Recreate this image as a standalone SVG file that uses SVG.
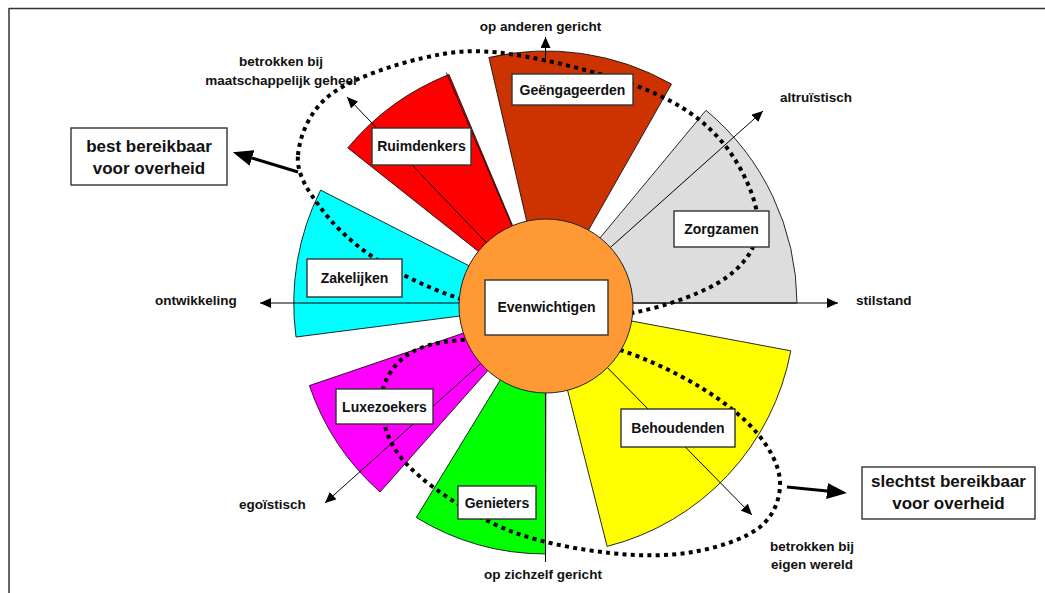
<svg xmlns="http://www.w3.org/2000/svg" width="1045" height="593" viewBox="0 0 1045 593">
<defs>
<style>
.sec{stroke:#111;stroke-width:0.9}
.ax{stroke:#000;stroke-width:1;fill:none}
.dot{fill:none;stroke:#000;stroke-width:4;stroke-dasharray:4 4.3}
.box{fill:#fff;stroke:#333;stroke-width:1.4}
.lbl{font-family:"Liberation Sans",Arial,sans-serif;font-weight:bold;font-size:14px;fill:#111;text-anchor:middle}
.ax-t{font-family:"Liberation Sans",Arial,sans-serif;font-weight:bold;font-size:13.5px;fill:#111}
.big{font-family:"Liberation Sans",Arial,sans-serif;font-weight:bold;font-size:17px;fill:#111;text-anchor:middle}
</style>
<marker id="ah" viewBox="0 0 11 10" refX="11" refY="5" markerWidth="11" markerHeight="10" markerUnits="userSpaceOnUse" orient="auto"><path d="M0,0 L11,5 L0,10 z" fill="#000"/></marker>
<marker id="bh" viewBox="0 0 20 16" refX="0" refY="8" markerWidth="20" markerHeight="16" markerUnits="userSpaceOnUse" orient="auto"><path d="M0,0 L20,8 L0,16 z" fill="#000"/></marker>
</defs>
<rect width="1045" height="593" fill="#fff"/>
<g id="frame" stroke="#333" stroke-width="1.5" fill="none">
<line x1="9" y1="8.5" x2="1045" y2="8.5"/>
<line x1="9" y1="8" x2="9" y2="593"/>
</g>
<g id="sectors">
<path class="sec" fill="#CC3300" d="M546,305 L488.9,57.5 A254,254 0 0 1 671.5,84.1 Z"/>
<path class="sec" fill="#FF0000" d="M546,305 L347.8,147.9 A253,253 0 0 1 449,74.5 Z"/>
<line class="sec" x1="546" y1="305" x2="446.3" y2="72.5"/>
<path class="sec" fill="#DDDDDD" d="M546,303 L706,110.3 A252,252 0 0 1 797,303 Z"/>
<path class="sec" fill="#00FFFF" d="M546,305 L296,337 A252,252 0 0 1 320.6,190.1 Z"/>
<path class="sec" fill="#FF00FF" d="M546,305 L380,492 A250,250 0 0 1 309.4,385.6 Z"/>
<path class="sec" fill="#00FF00" d="M546,305 L545.5,554 A249,249 0 0 1 416.3,517.5 Z"/>
<path class="sec" fill="#FFFF00" d="M546,305 L790.8,350.8 A249,249 0 0 1 607.1,546.4 Z"/>
</g>
<g id="connectors">
<line class="ax" x1="545.5" y1="62" x2="545.5" y2="37" marker-end="url(#ah)"/>
<line class="ax" x1="545.5" y1="390" x2="545.5" y2="562"/>
<line class="ax" x1="546" y1="303" x2="260" y2="303" marker-end="url(#ah)"/>
<line class="ax" x1="546" y1="303" x2="838" y2="303" marker-end="url(#ah)"/>
<line x1="630" y1="303" x2="797" y2="303" stroke="#444" stroke-width="2.2"/>
<line class="ax" x1="546" y1="305" x2="763" y2="111" marker-end="url(#ah)"/>
<line class="ax" x1="546" y1="305" x2="347" y2="97" marker-end="url(#ah)"/>
<line class="ax" x1="546" y1="305" x2="325" y2="503" marker-end="url(#ah)"/>
<line class="ax" x1="546" y1="305" x2="752" y2="515" marker-end="url(#ah)"/>
<line x1="298" y1="172" x2="252" y2="158" stroke="#000" stroke-width="3" marker-end="url(#bh)"/>
<line x1="787" y1="487" x2="827" y2="491" stroke="#000" stroke-width="3" marker-end="url(#bh)"/>
</g>
<g id="regions">
<path class="dot" d="M298,155 C299.7,136.3 309.2,111.2 330,95 C350.8,78.8 393,64.8 423,58 C453,51.2 472.7,48.7 510,54 C547.3,59.3 611.5,75.2 647,90 C682.5,104.8 704.5,121 723,143 C741.5,165 757.3,199.7 758,222 C758.7,244.3 747.2,262 727,277 C706.8,292 667.3,305.7 637,312 C606.7,318.3 575.3,317.5 545,315 C514.7,312.5 483.7,306.7 455,297 C426.3,287.3 395.5,272 373,257 C350.5,242 332.5,224 320,207 C307.5,190 296.3,173.7 298,155 Z"/>
<path class="dot" d="M620,350 C645.8,358.2 677.2,373.2 700,387 C722.8,400.8 743.7,417.2 757,433 C770.3,448.8 779.5,466.3 780,482 C780.5,497.7 774.5,515.3 760,527 C745.5,538.7 718,547.7 693,552 C668,556.3 640,556.3 610,553 C580,549.7 542.5,543 513,532 C483.5,521 453.5,502.3 433,487 C412.5,471.7 398,457.3 390,440 C382,422.7 378.3,398.8 385,383 C391.7,367.2 403.3,352.5 430,345 C456.7,337.5 513.3,337.2 545,338 C576.7,338.8 594.2,341.8 620,350 Z"/>
</g>
<g id="evenwichtigen">
<circle cx="546" cy="306" r="87" fill="#FF9933" stroke="#222" stroke-width="1"/>
<rect class="box" x="485" y="280" width="123" height="55"/>
<text class="lbl" x="546.5" y="312">Evenwichtigen</text>
</g>
<g id="geengageerden">
<rect class="box" x="512" y="74" width="121" height="31"/>
<text class="lbl" x="572.5" y="95">Geëngageerden</text>
</g>
<g id="ruimdenkers">
<rect class="box" x="372" y="128" width="99" height="37"/>
<text class="lbl" x="421.5" y="151">Ruimdenkers</text>
</g>
<g id="zorgzamen">
<rect class="box" x="674" y="211" width="95" height="36"/>
<text class="lbl" x="721.5" y="234">Zorgzamen</text>
</g>
<g id="zakelijken">
<rect class="box" x="307" y="259" width="95" height="38"/>
<text class="lbl" x="354.5" y="283">Zakelijken</text>
</g>
<g id="luxezoekers">
<rect class="box" x="336" y="389" width="97" height="35"/>
<text class="lbl" x="384.5" y="411.5">Luxezoekers</text>
</g>
<g id="genieters">
<rect class="box" x="458" y="486" width="78" height="33"/>
<text class="lbl" x="497" y="507.5">Genieters</text>
</g>
<g id="behoudenden">
<rect class="box" x="621" y="409" width="114" height="38"/>
<text class="lbl" x="678" y="432.5">Behoudenden</text>
</g>
<g id="best-bereikbaar">
<rect class="box" x="71" y="128" width="156" height="57"/>
<text class="big" x="149" y="152">best bereikbaar</text>
<text class="big" x="149" y="174">voor overheid</text>
</g>
<g id="slechtst-bereikbaar">
<rect class="box" x="862" y="467" width="173" height="52"/>
<text class="big" x="948.5" y="487">slechtst bereikbaar</text>
<text class="big" x="948.5" y="509">voor overheid</text>
</g>
<g id="axis-labels">
<text class="ax-t" x="540.5" y="30.5" text-anchor="middle" font-size="14">op anderen gericht</text>
<text class="ax-t" x="281" y="66" text-anchor="middle" font-size="14">betrokken bij</text>
<text class="ax-t" x="281" y="85" text-anchor="middle" font-size="14">maatschappelijk geheel</text>
<text class="ax-t" x="780" y="102">altruïstisch</text>
<text class="ax-t" x="856" y="304.5">stilstand</text>
<text class="ax-t" x="155" y="304.5" font-size="14">ontwikkeling</text>
<text class="ax-t" x="239" y="509">egoïstisch</text>
<text class="ax-t" x="543" y="579" text-anchor="middle" font-size="14">op zichzelf gericht</text>
<text class="ax-t" x="812" y="551" text-anchor="middle" font-size="14">betrokken bij</text>
<text class="ax-t" x="812" y="569" text-anchor="middle" font-size="14">eigen wereld</text>
</g>
</svg>
